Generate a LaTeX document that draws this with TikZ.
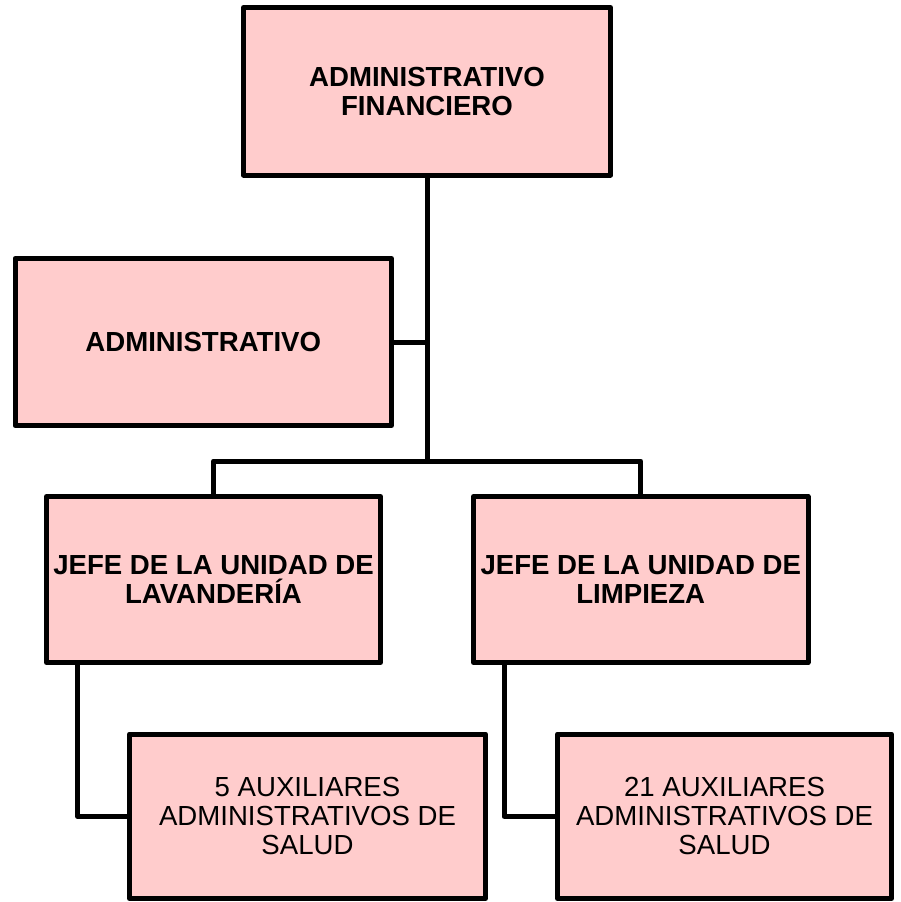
\documentclass[tikz,border=0pt]{standalone}
\usepackage{fontspec}
\setmainfont{Liberation Sans}
\usetikzlibrary{positioning}
\definecolor{rosa}{RGB}{255,204,204}

\begin{document}
\begin{tikzpicture}[
		x=0.5pt,y=-0.5pt,
		line width=2.5pt,line join=round,
		every node/.style={rectangle,draw,fill=rosa,align=center,inner sep=0pt,
			font=\fontsize{13.8}{14.5}\selectfont},
		cargo/.style={font=\fontsize{13.8}{14.5}\selectfont\bfseries},
		auxiliar/.style={minimum width=178pt,minimum height=82.25pt}
		]
		\useasboundingbox (0,0) rectangle (901,902);
		\node[cargo,minimum width=183.5pt,minimum height=83.75pt] (financiero) at (427,91.25) {ADMINISTRATIVO\\FINANCIERO};
		\node[cargo,minimum width=188.25pt,minimum height=83.5pt] (admin) at (203.25,342) {ADMINISTRATIVO};
		\node[cargo,minimum width=167pt,minimum height=83pt] (lavanderia) at (213.5,579.5) {JEFE DE LA UNIDAD DE\\LAVANDERÍA};
		\node[cargo,minimum width=167.25pt,minimum height=83pt] (limpieza) at (640.75,579.5) {JEFE DE LA UNIDAD DE\\LIMPIEZA};
		\node[auxiliar] (auxlav) at (307.5,816.25) {5 AUXILIARES\\ADMINISTRATIVOS DE\\SALUD};
		\node[auxiliar,minimum width=167pt] (auxlim) at (724.5,816.25) {21 AUXILIARES\\ADMINISTRATIVOS DE\\SALUD};
		% lineas
		\coordinate (rama) at (427.5,461);
		\draw (financiero.south -| rama) -- (rama);
		\draw (admin.east) -- (admin.east -| rama);
		\draw (lavanderia.north) |- (rama) -| (limpieza.north);
		\draw ([xshift=16.75pt]lavanderia.south west) |- (auxlav.west);
		\draw ([xshift=16.5pt]limpieza.south west) |- (auxlim.west);
	\end{tikzpicture}
\end{document}
